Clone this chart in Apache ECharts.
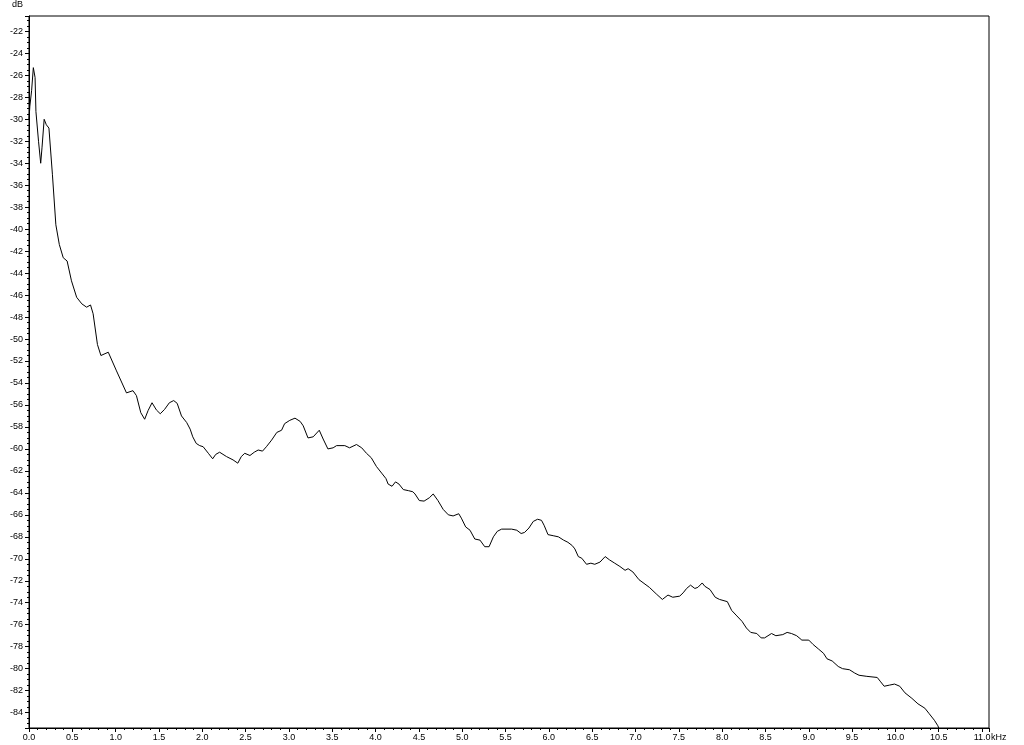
<!DOCTYPE html>
<html>
<head>
<meta charset="utf-8">
<script src="https://cdn.jsdelivr.net/npm/echarts@6/dist/echarts.min.js"></script>
<style>
html,body{margin:0;padding:0;background:#fff;}
#chart{width:1024px;height:745px;}
</style>
</head>
<body>
<div id="chart"></div>
<script>
// Frequency (kHz) and level (dB)
var freqKHz = [0.00,0.01,0.03,0.05,0.07,0.08,0.11,0.135,0.15,0.175,0.20,0.23,0.27,0.31,0.35,0.395,0.44,0.49,0.55,0.61,0.665,0.71,0.74,0.79,0.83,0.915,1.01,1.125,1.20,1.24,1.29,1.335,1.375,1.42,1.47,1.515,1.565,1.62,1.67,1.71,1.76,1.82,1.86,1.89,1.93,1.97,2.01,2.07,2.12,2.155,2.20,2.28,2.355,2.41,2.45,2.49,2.55,2.60,2.645,2.695,2.74,2.80,2.86,2.915,2.95,3.01,3.07,3.13,3.165,3.22,3.28,3.35,3.395,3.45,3.51,3.55,3.645,3.70,3.78,3.84,3.895,3.95,4.01,4.07,4.12,4.145,4.19,4.23,4.27,4.32,4.38,4.43,4.455,4.505,4.56,4.62,4.665,4.72,4.78,4.84,4.895,4.96,4.99,5.04,5.09,5.145,5.205,5.26,5.31,5.36,5.405,5.455,5.57,5.63,5.68,5.72,5.77,5.82,5.87,5.915,5.945,5.99,6.05,6.11,6.17,6.22,6.27,6.30,6.34,6.38,6.435,6.485,6.53,6.59,6.65,6.70,6.76,6.82,6.88,6.915,6.97,7.04,7.16,7.24,7.31,7.375,7.43,7.51,7.55,7.59,7.635,7.685,7.72,7.77,7.80,7.86,7.92,7.97,8.06,8.11,8.17,8.23,8.28,8.33,8.40,8.45,8.49,8.57,8.62,8.70,8.75,8.80,8.86,8.92,9.00,9.05,9.11,9.17,9.21,9.27,9.34,9.39,9.47,9.53,9.58,9.67,9.79,9.83,9.87,9.93,9.99,10.05,10.11,10.19,10.26,10.34,10.39,10.45,10.49,10.51];
var levelDb = [-30.0,-28.8,-27.4,-25.3,-26.2,-29.3,-32.0,-34.0,-32.6,-30.0,-30.5,-30.8,-35.0,-39.6,-41.4,-42.6,-42.9,-44.7,-46.2,-46.8,-47.1,-46.9,-47.7,-50.5,-51.5,-51.2,-52.9,-54.9,-54.7,-55.15,-56.7,-57.3,-56.5,-55.8,-56.45,-56.8,-56.4,-55.8,-55.6,-55.85,-57.0,-57.6,-58.2,-58.9,-59.5,-59.7,-59.8,-60.4,-60.9,-60.5,-60.3,-60.7,-61.0,-61.3,-60.7,-60.4,-60.6,-60.3,-60.1,-60.2,-59.8,-59.2,-58.5,-58.3,-57.7,-57.4,-57.2,-57.5,-57.9,-59.0,-58.9,-58.3,-59.1,-60.0,-59.9,-59.7,-59.7,-59.9,-59.6,-59.9,-60.4,-60.8,-61.6,-62.2,-62.7,-63.2,-63.4,-63.0,-63.2,-63.7,-63.8,-63.9,-64.1,-64.7,-64.75,-64.45,-64.1,-64.7,-65.5,-66.0,-66.1,-65.9,-66.3,-67.1,-67.4,-68.2,-68.3,-68.9,-68.9,-68.0,-67.5,-67.3,-67.3,-67.4,-67.7,-67.6,-67.2,-66.6,-66.4,-66.5,-66.95,-67.8,-67.9,-68.0,-68.3,-68.5,-68.8,-69.1,-69.8,-69.95,-70.5,-70.4,-70.5,-70.3,-69.8,-70.1,-70.4,-70.7,-71.05,-70.9,-71.2,-71.9,-72.6,-73.2,-73.7,-73.3,-73.5,-73.4,-73.1,-72.7,-72.4,-72.7,-72.6,-72.2,-72.5,-72.8,-73.5,-73.7,-73.9,-74.7,-75.2,-75.7,-76.3,-76.7,-76.8,-77.2,-77.2,-76.8,-77.0,-76.9,-76.7,-76.8,-77.0,-77.4,-77.4,-77.8,-78.2,-78.6,-79.1,-79.3,-79.8,-80.0,-80.1,-80.4,-80.6,-80.7,-80.8,-81.2,-81.6,-81.5,-81.4,-81.6,-82.2,-82.7,-83.2,-83.6,-84.1,-84.7,-85.2,-85.6];

var xMin = 0, xMax = 11.08;
var yMin = -85.4, yMax = -20.6;
var xUnit = 'kHz', yUnit = 'dB';

var points = freqKHz.map(function (f, i) { return [f, levelDb[i]]; });

var FONT = 'Liberation Sans';
var textStyle = { fontFamily: FONT, fontSize: 9, color: '#000' };

function xLabel(v) {
  var h = v * 2;
  if (Math.abs(h - Math.round(h)) < 1e-6 && v <= 11.0001) return v.toFixed(1);
  return '';
}
function yLabel(v) {
  if (Math.abs(v - Math.round(v)) < 1e-6 && Math.round(v) % 2 === 0) return String(Math.round(v));
  return '';
}

var chart = echarts.init(document.getElementById('chart'), null, { renderer: 'canvas' });
chart.setOption({
  animation: false,
  backgroundColor: '#fff',
  grid: { left: 29, right: 35, top: 15, bottom: 17, show: true, borderColor: '#000', borderWidth: 1, containLabel: false },
  xAxis: [
    {
      type: 'value', min: xMin, max: xMax, interval: 0.5, position: 'bottom',
      name: xUnit, nameLocation: 'end', nameGap: 2, nameMoveOverlap: false,
      nameTextStyle: { fontFamily: FONT, fontSize: 9, color: '#000', align: 'left', verticalAlign: 'top', padding: [5, 0, 0, 0] },
      axisLine: { show: true, onZero: false, lineStyle: { color: '#000', width: 1 } },
      axisTick: { show: true, inside: false, length: 4, lineStyle: { color: '#000' } },
      axisLabel: Object.assign({ margin: 5, formatter: xLabel, showMaxLabel: true }, textStyle),
      splitLine: { show: false }
    },
    {
      type: 'value', min: xMin, max: xMax, interval: 0.1, position: 'bottom',
      axisLine: { show: false },
      axisTick: { show: true, inside: false, length: 2, lineStyle: { color: '#000' } },
      axisLabel: { show: false },
      splitLine: { show: false }
    }
  ],
  yAxis: [
    {
      type: 'value', min: yMin, max: yMax, splitNumber: 32, position: 'left',
      name: yUnit, nameLocation: 'end', nameGap: 7, nameMoveOverlap: false,
      nameTextStyle: { fontFamily: FONT, fontSize: 9, color: '#000', align: 'right', padding: [0, 6, 0, 0] },
      axisLine: { show: true, onZero: false, lineStyle: { color: '#000', width: 1 } },
      axisTick: { show: true, inside: false, length: 4, lineStyle: { color: '#000' } },
      axisLabel: Object.assign({ margin: 6, formatter: yLabel }, textStyle),
      splitLine: { show: false }
    },
    {
      type: 'value', min: yMin, max: yMax, splitNumber: 130, position: 'left',
      axisLine: { show: false },
      axisTick: { show: true, inside: false, length: 2, lineStyle: { color: '#000' } },
      axisLabel: { show: false },
      splitLine: { show: false }
    }
  ],
  series: [{
    type: 'line',
    xAxisIndex: 0, yAxisIndex: 0,
    data: points,
    showSymbol: false,
    symbol: 'none',
    clip: true,
    lineStyle: { color: '#000', width: 1 },
    z: 5
  }]
});
</script>
</body>
</html>
